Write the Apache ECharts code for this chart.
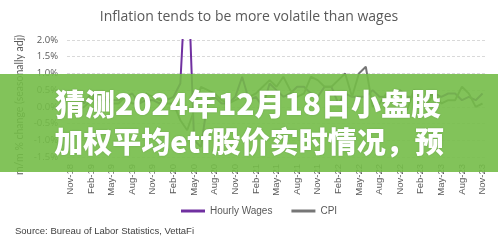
<!DOCTYPE html>
<html><head><meta charset="utf-8">
<script src="https://cdn.jsdelivr.net/npm/echarts@6/dist/echarts.min.js"></script>
<style>html,body{margin:0;padding:0;background:#fff}#c{width:498px;height:246px}</style>
</head><body><div id="c"></div>
<script>
const months = ["Nov-18","Dec-18","Jan-19","Feb-19","Mar-19","Apr-19","May-19","Jun-19","Jul-19","Aug-19","Sep-19","Oct-19","Nov-19","Dec-19",
"Jan-20","Feb-20","Mar-20","Apr-20","May-20","Jun-20","Jul-20","Aug-20","Sep-20","Oct-20","Nov-20","Dec-20",
"Jan-21","Feb-21","Mar-21","Apr-21","May-21","Jun-21","Jul-21","Aug-21","Sep-21","Oct-21","Nov-21","Dec-21",
"Jan-22","Feb-22","Mar-22","Apr-22","May-22","Jun-22","Jul-22","Aug-22","Sep-22","Oct-22","Nov-22","Dec-22",
"Jan-23","Feb-23","Mar-23","Apr-23","May-23","Jun-23","Jul-23","Aug-23","Sep-23","Oct-23","Nov-23"];
const hourlyWages = [0.2,0.4,0.1,0.4,0.2,0.2,0.2,0.2,0.3,0.4,0.1,0.2,0.2,0.1,
0.2,0.3,0.7,4.7,-1.0,-1.2,0.2,0.3,0.1,0.1,0.3,0.9,
0.2,0.3,0.0,0.7,0.5,0.3,0.4,0.6,0.6,0.4,0.3,0.6,
0.6,0.1,0.4,0.3,0.3,0.3,0.5,0.3,0.3,0.4,0.5,0.3,
0.3,0.2,0.3,0.4,0.3,0.4,0.4,0.2,0.3,0.2,0.4];
const cpi = [0.0,-0.1,0.0,0.2,0.4,0.3,0.1,0.1,0.3,0.1,0.1,0.4,0.3,0.2,
0.1,0.1,-0.4,-0.7,-0.1,0.6,0.5,0.4,0.2,0.1,0.2,0.3,
0.3,0.4,0.6,0.8,0.6,0.9,0.5,0.3,0.4,0.9,0.8,0.6,
0.6,0.8,1.0,0.3,1.0,1.2,0.0,0.1,0.4,0.4,0.1,-0.1,
0.5,0.4,0.1,0.4,0.1,0.2,0.2,0.6,0.4,0.0,0.1];
const yTicks = {min:-1.5, max:2.0, step:0.5};
const titleText = "Inflation tends to be more volatile than wages";
const yName = "m/m % change (seasonally adj)";
const sourceText = "Source: Bureau of Labor Statistics, VettaFi";
const bannerLines = ["猜测2024年12月18日小盘股","加权平均etf股价实时情况，预"];

const chart = echarts.init(document.getElementById('c'), null, {renderer:'canvas'});
chart.setOption({
  animation:false,
  backgroundColor:'#ffffff',
  title:{text:titleText,left:'center',top:5,textStyle:{fontFamily:'Open Sans',fontWeight:'normal',fontSize:14,color:'#595959'}},
  grid:{left:67,right:12,top:40,bottom:89},
  legend:{left:181,top:206,padding:0,itemWidth:24,itemHeight:3,itemGap:19,icon:'rect',
    textStyle:{fontFamily:'Liberation Sans',fontSize:10,color:'#595959'},
    data:['Hourly Wages','CPI']},
  xAxis:{type:'category',data:months,boundaryGap:true,
    axisLine:{show:false},axisTick:{show:false},
    axisLabel:{interval:2,rotate:90,margin:7,fontFamily:'Liberation Sans',fontSize:9.5,color:'#595959'}},
  yAxis:{type:'value',min:yTicks.min,max:yTicks.max,interval:yTicks.step,
    axisLine:{show:false},axisTick:{show:false},
    axisLabel:{margin:9,fontFamily:'Open Sans',fontSize:9.5,color:'#595959',formatter:v=>v.toFixed(1)+'%'},
    splitLine:{lineStyle:{color:'#d9d9d9',type:[3,2],width:1}}},
  series:[
    {name:'Hourly Wages',type:'line',data:hourlyWages,symbol:'none',clip:true,lineStyle:{color:'#7030a0',width:2},itemStyle:{color:'#7030a0'}},
    {name:'CPI',type:'line',data:cpi,symbol:'none',clip:true,lineStyle:{color:'#767676',width:2},itemStyle:{color:'#767676'}}
  ],
  graphic:[
    {type:'text',x:20,y:105,rotation:Math.PI/2,style:{text:yName,fontFamily:'Lato',fontSize:10.5,fill:'#595959',textAlign:'center',textVerticalAlign:'middle'}},
    {type:'text',left:15,top:226,style:{text:sourceText,fontFamily:'Liberation Sans',fontSize:9.5,fill:'#404040'}},
    {type:'rect',z:100,shape:{x:0,y:74,width:498,height:98},style:{fill:'rgba(116,188,72,0.9)'}},
    {type:'text',z:101,x:248,y:104,style:{text:bannerLines[0],fontFamily:'Noto Sans CJK SC',fontWeight:900,fontSize:30,fill:'#ffffff',textAlign:'center',textVerticalAlign:'middle',textShadowColor:'rgba(0,0,0,0.15)',textShadowBlur:2}},
    {type:'text',z:101,x:249,y:142,style:{text:bannerLines[1],fontFamily:'Noto Sans CJK SC',fontWeight:900,fontSize:29,fill:'#ffffff',textAlign:'center',textVerticalAlign:'middle',textShadowColor:'rgba(0,0,0,0.15)',textShadowBlur:2}}
  ]
});
</script></body></html>
